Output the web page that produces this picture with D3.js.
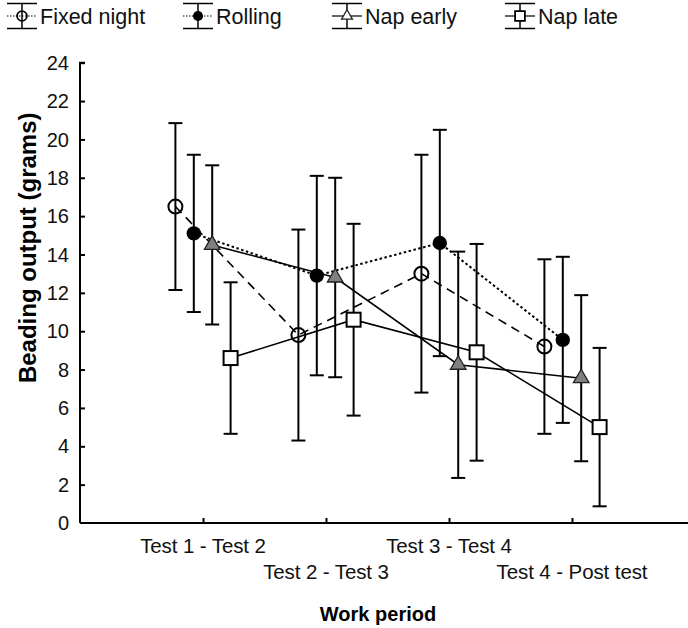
<!DOCTYPE html>
<html>
<head>
<meta charset="utf-8">
<script src="https://cdn.jsdelivr.net/npm/d3@7"></script>
<style>
  html, body { margin: 0; padding: 0; background: #fff; }
  svg { display: block; font-family: Arial, "Liberation Sans", sans-serif; }
</style>
</head>
<body>
<svg id="chart" width="688" height="628"></svg>
<script>
// Work periods on the x axis
const periods = ["Test 1 - Test 2", "Test 2 - Test 3", "Test 3 - Test 4", "Test 4 - Post test"];

// Mean beading output (grams) and confidence half-widths per schedule
const fixedNight    = [16.5, 9.8, 13.0, 9.2];
const fixedNightErr = [4.35, 5.5, 6.2, 4.55];
const rolling       = [15.1, 12.9, 14.6, 9.55];
const rollingErr    = [4.1, 5.2, 5.9, 4.33];
const napEarly      = [14.5, 12.8, 8.25, 7.55];
const napEarlyErr   = [4.15, 5.2, 5.9, 4.33];
const napLate       = [8.6, 10.6, 8.9, 5.0];
const napLateErr    = [3.95, 5.0, 5.65, 4.13];

const seriesNames = ["Fixed night", "Rolling", "Nap early", "Nap late"];
const yTicks = [0, 2, 4, 6, 8, 10, 12, 14, 16, 18, 20, 22, 24];

const series = [
  { name: seriesNames[0], values: fixedNight, errs: fixedNightErr, dash: "9,6",     width: 1.6, marker: "circle" },
  { name: seriesNames[1], values: rolling,    errs: rollingErr,    dash: "2.5,2.5", width: 2,   marker: "dot" },
  { name: seriesNames[2], values: napEarly,   errs: napEarlyErr,   dash: null,      width: 1.6, marker: "triangle" },
  { name: seriesNames[3], values: napLate,    errs: napLateErr,    dash: null,      width: 1.6, marker: "square" }
];

const svg = d3.select("#chart");

const x = d3.scaleLinear().domain([0, 5]).range([80, 695]);
const y = d3.scaleLinear().domain([0, 24]).range([523, 62.7]);
// spread the four schedules side by side around each period tick
const offset = d3.scalePoint().domain(seriesNames).range([-27.6, 27.6]);

// axes
const yAxis = d3.axisRight(y).tickValues(yTicks.filter(d => d > 0)).tickSize(5).tickFormat("");
svg.append("g").attr("transform", `translate(${x(0)},0)`).call(yAxis)
  .call(g => g.select(".domain").attr("d", `M5,${y(24)}H0V${y(0)}`))
  .call(g => g.selectAll("line, path").attr("stroke", "#000").attr("stroke-width", 2));

svg.append("g").selectAll("text").data(yTicks).join("text")
  .attr("x", 69).attr("y", d => y(d)).attr("dy", "0.36em")
  .attr("text-anchor", "end").attr("font-size", 20).attr("fill", "#111")
  .text(d => d);

const xAxis = d3.axisTop(x).tickValues([1, 2, 3, 4]).tickSize(5).tickFormat("");
svg.append("g").attr("transform", `translate(0,${y(0)})`).call(xAxis)
  .call(g => g.select(".domain").attr("d", `M${x(0)},0H${x(5)}`))
  .call(g => g.selectAll("line, path").attr("stroke", "#000").attr("stroke-width", 2));

svg.append("g").selectAll("text").data(periods).join("text")
  .attr("x", (d, i) => x(i + 1))
  .attr("y", (d, i) => i % 2 === 0 ? 553 : 579)
  .attr("text-anchor", "middle").attr("font-size", 20.5).attr("fill", "#111")
  .attr("letter-spacing", "-0.1")
  .text(d => d);

svg.append("text")
  .attr("x", 378).attr("y", 621)
  .attr("text-anchor", "middle").attr("font-size", 20).attr("font-weight", "bold")
  .text("Work period");

svg.append("text")
  .attr("transform", `translate(36,${y(14.35)}) rotate(-90)`)
  .attr("text-anchor", "middle").attr("font-size", 24).attr("font-weight", "bold")
  .text("Beading output (grams)");

// connecting lines
const line = d3.line();
series.forEach(s => {
  const pts = s.values.map((v, i) => [x(i + 1) + offset(s.name), y(v)]);
  svg.append("path").attr("d", line(pts))
    .attr("fill", "none").attr("stroke", "#000")
    .attr("stroke-width", s.width)
    .attr("stroke-dasharray", s.dash);
});

// error bars
const capHalf = 7;
series.forEach(s => {
  const g = svg.append("g").attr("stroke", "#000").attr("stroke-width", 2);
  s.values.forEach((v, i) => {
    const cx = x(i + 1) + offset(s.name);
    const hi = y(v + s.errs[i]), lo = y(v - s.errs[i]);
    g.append("line").attr("x1", cx).attr("x2", cx).attr("y1", hi).attr("y2", lo);
    g.append("line").attr("x1", cx - capHalf).attr("x2", cx + capHalf).attr("y1", hi).attr("y2", hi);
    g.append("line").attr("x1", cx - capHalf).attr("x2", cx + capHalf).attr("y1", lo).attr("y2", lo);
  });
});

// markers
function drawMarker(g, type, cx, cy, scale) {
  const k = scale || 1;
  if (type === "circle") {
    g.append("circle").attr("cx", cx).attr("cy", cy).attr("r", 7 * k)
      .attr("fill", "none").attr("stroke", "#000").attr("stroke-width", 2 * Math.min(1, k + 0.2));
  } else if (type === "dot") {
    g.append("circle").attr("cx", cx).attr("cy", cy).attr("r", 7.2 * k).attr("fill", "#000");
  } else if (type === "triangle") {
    g.append("path").attr("d", d3.symbol(d3.symbolTriangle, 105 * k * k)())
      .attr("transform", `translate(${cx},${cy})`)
      .attr("fill", k < 1 ? "#fff" : "#808080").attr("stroke", "#222").attr("stroke-width", 1.3);
  } else if (type === "square") {
    const h = 7 * k;
    g.append("rect").attr("x", cx - h).attr("y", cy - h).attr("width", 2 * h).attr("height", 2 * h)
      .attr("fill", "#fff").attr("stroke", "#000").attr("stroke-width", 2 * Math.min(1, k + 0.2));
  }
}

const markers = svg.append("g");
series.forEach(s => {
  s.values.forEach((v, i) => drawMarker(markers, s.marker, x(i + 1) + offset(s.name), y(v)));
});

// legend: error-bar glyph with marker, then the schedule name
const legendX = [22, 198, 347, 520];
const legend = svg.append("g");
series.forEach((s, i) => {
  const cx = legendX[i], cy = 16, top = 3.5, bottom = 28.5;
  const g = legend.append("g");
  g.append("line").attr("x1", cx - 15).attr("x2", cx + 15).attr("y1", top).attr("y2", top)
    .attr("stroke", "#000").attr("stroke-width", 1.5);
  g.append("line").attr("x1", cx - 15).attr("x2", cx + 15).attr("y1", bottom).attr("y2", bottom)
    .attr("stroke", "#000").attr("stroke-width", 1.5);
  g.append("line").attr("x1", cx).attr("x2", cx).attr("y1", top).attr("y2", bottom)
    .attr("stroke", "#000").attr("stroke-width", 1.5);
  g.append("line").attr("x1", cx - 15).attr("x2", cx + 15).attr("y1", cy).attr("y2", cy)
    .attr("stroke", "#000").attr("stroke-width", 1.2)
    .attr("stroke-dasharray", i < 2 ? "1.5,1.5" : null);
  drawMarker(g, s.marker, cx, cy, 0.7);
  g.append("text").attr("x", cx + 18).attr("y", cy).attr("dy", "0.36em")
    .attr("font-size", 21.5).attr("fill", "#111").text(s.name);
});
</script>
</body>
</html>
